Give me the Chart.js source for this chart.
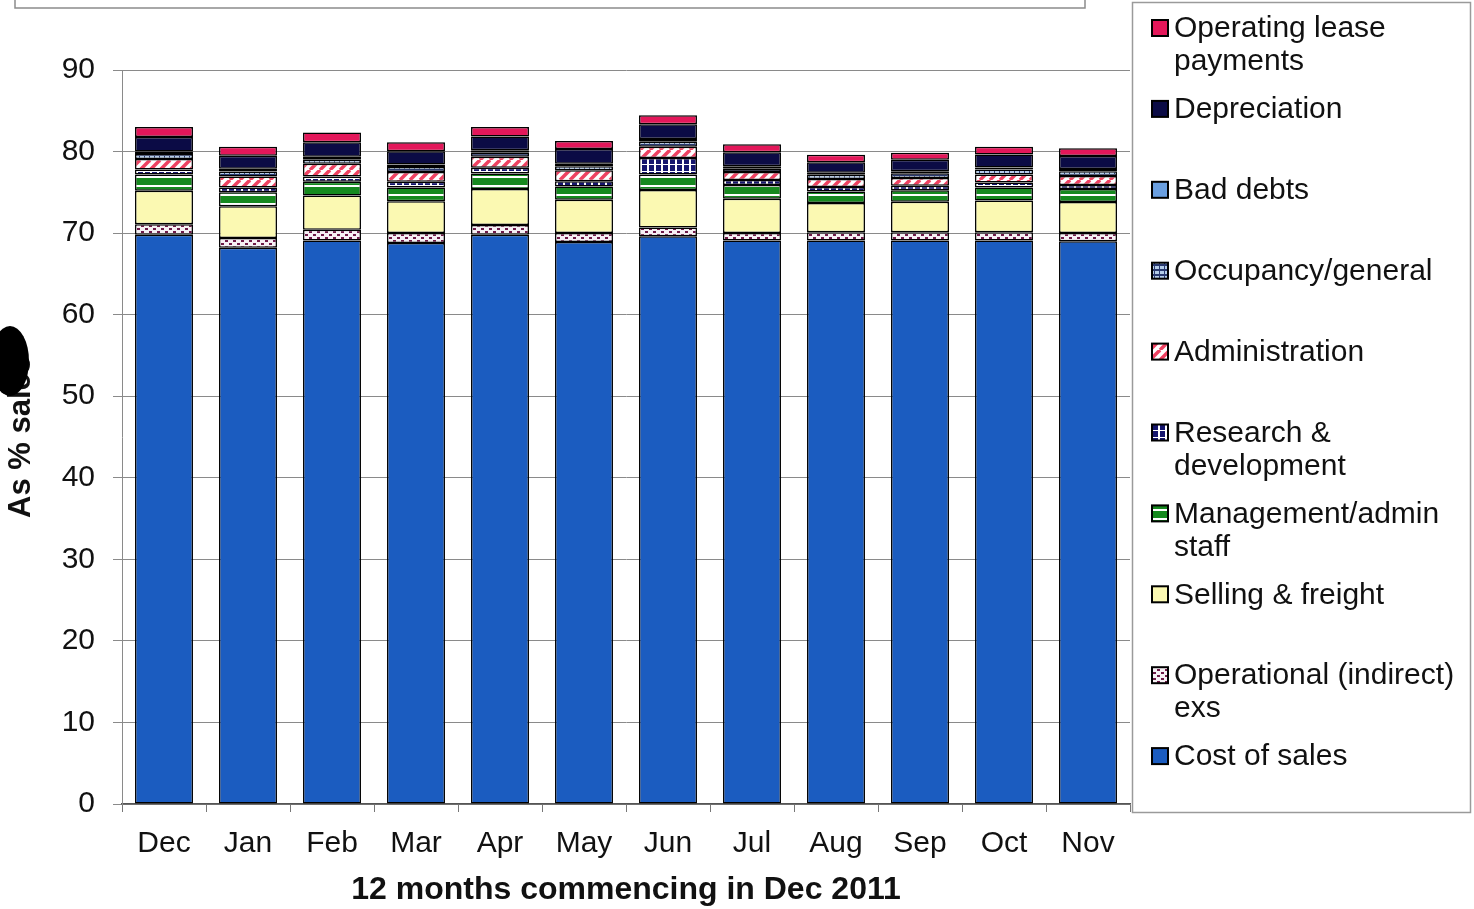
<!DOCTYPE html>
<html>
<head>
<meta charset="utf-8">
<title>Costs as % of sales</title>
<script src="https://cdn.jsdelivr.net/npm/chart.js@4.4.1/dist/chart.umd.min.js"></script>
<style>
  html, body { margin: 0; padding: 0; background: #fff; }
  canvas { display: block; }
</style>
</head>
<body>
<canvas id="chart" width="1474" height="909"></canvas>
<script>
const months = ['Dec', 'Jan', 'Feb', 'Mar', 'Apr', 'May', 'Jun', 'Jul', 'Aug', 'Sep', 'Oct', 'Nov'];

// stacked from the bottom up
const costOfSales   = [69.8, 68.2, 69.1, 68.8, 69.8, 68.9, 69.6, 69.1, 69.1, 69.1, 69.1, 69.0];
const operational   = [1.3, 1.2, 1.3, 1.2, 1.2, 1.1, 1.1, 0.9, 1.0, 1.0, 1.0, 1.0];
const selling       = [4.1, 3.9, 4.2, 3.9, 4.4, 4.1, 4.6, 4.2, 3.6, 3.75, 3.9, 3.8];
const management    = [2.0, 1.7, 1.7, 1.7, 1.9, 1.6, 1.9, 1.7, 1.4, 1.4, 1.6, 1.6];
const research      = [0.6, 0.6, 0.65, 0.7, 0.7, 0.65, 2.0, 0.6, 0.55, 0.55, 0.6, 0.5];
const administration = [1.3, 1.35, 1.55, 1.2, 1.35, 1.35, 1.4, 1.0, 1.0, 0.95, 1.0, 1.1];
const occupancy     = [0.6, 0.6, 0.5, 0.6, 0.5, 0.5, 0.6, 0.4, 0.5, 0.6, 0.6, 0.6];
const badDebts      = [0.3, 0.35, 0.35, 0.3, 0.3, 0.3, 0.35, 0.3, 0.25, 0.25, 0.25, 0.25];
const depreciation  = [1.8, 1.6, 1.8, 1.65, 1.7, 1.8, 1.8, 1.7, 1.3, 1.4, 1.6, 1.6];
const leasePayments = [1.2, 1.1, 1.2, 1.1, 1.15, 1.0, 1.1, 1.0, 0.9, 0.85, 0.95, 0.95];

const seriesNames = [
  'Cost of sales', 'Operational (indirect) exs', 'Selling & freight', 'Management/admin staff',
  'Research & development', 'Administration', 'Occupancy/general', 'Bad debts',
  'Depreciation', 'Operating lease payments'
];
const seriesData = [costOfSales, operational, selling, management, research,
  administration, occupancy, badDebts, depreciation, leasePayments];

const yTicks = [0, 10, 20, 30, 40, 50, 60, 70, 80, 90];

const FONT = "'Liberation Sans', Arial, sans-serif";

function makePattern(w, h, paint) {
  const c = document.createElement('canvas');
  c.width = w; c.height = h;
  const g = c.getContext('2d');
  paint(g, w, h);
  return g.createPattern(c, 'repeat');
}

const fills = [
  '#1b5cc0',
  makePattern(8, 6, (g, w, h) => {
    g.fillStyle = '#f6f0f4'; g.fillRect(0, 0, w, h);
    g.fillStyle = '#6e1a48';
    g.fillRect(1, 0, 3, 2); g.fillRect(5, 3, 3, 2);
  }),
  '#fbf9b2',
  makePattern(4, 9, (g, w, h) => {
    g.fillStyle = '#16891f'; g.fillRect(0, 0, w, h);
    g.fillStyle = '#ffffff'; g.fillRect(0, 5, w, 2);
  }),
  makePattern(7, 7, (g, w, h) => {
    g.fillStyle = '#15156e'; g.fillRect(0, 0, w, h);
    g.fillStyle = '#ffffff'; g.fillRect(3, 0, 2, h); g.fillRect(0, 3, w, 1);
  }),
  makePattern(10, 10, (g, w, h) => {
    g.fillStyle = '#ffffff'; g.fillRect(0, 0, w, h);
    g.strokeStyle = '#ee4262'; g.lineWidth = 3.5;
    for (const o of [-w, 0, w]) {
      g.beginPath(); g.moveTo(o, h); g.lineTo(o + w, 0); g.stroke();
    }
  }),
  makePattern(5, 5, (g, w, h) => {
    g.fillStyle = '#2a3a70'; g.fillRect(0, 0, w, h);
    g.fillStyle = '#b4cce8'; g.fillRect(0, 1, 4, 3);
  }),
  '#6a9fe0',
  '#0b0b45',
  '#e3175a'
];

const datasets = seriesNames.map((name, i) => ({
  label: name,
  data: seriesData[i],
  backgroundColor: fills[i],
  borderColor: '#000',
  borderWidth: 1.5,
  borderSkipped: false,
  barPercentage: 0.69,
  categoryPercentage: 1
}));

// legend box on the right, drawn from the datasets, top of stack first
const sideLegend = {
  id: 'sideLegend',
  afterDraw(chart) {
    const ctx = chart.ctx;
    ctx.save();
    ctx.strokeStyle = '#9a9a9a';
    ctx.lineWidth = 1.5;
    ctx.strokeRect(1132.5, 2.5, 338, 810);

    ctx.font = '30px ' + FONT;
    ctx.textBaseline = 'middle';
    const sets = chart.data.datasets.slice().reverse();
    sets.forEach((ds, i) => {
      const y = 28 + i * 80.9;
      ctx.fillStyle = ds.backgroundColor;
      ctx.fillRect(1152, y - 8, 16, 16);
      ctx.strokeStyle = '#000';
      ctx.lineWidth = 2;
      ctx.strokeRect(1152, y - 8, 16, 16);

      // wrap the label into lines that fit the box
      const words = ds.label.split(' ');
      const lines = [];
      let line = '';
      words.forEach(w => {
        const t = line ? line + ' ' + w : w;
        if (ctx.measureText(t).width > 290 && line) { lines.push(line); line = w; }
        else line = t;
      });
      lines.push(line);
      ctx.fillStyle = '#111';
      lines.forEach((l, k) => ctx.fillText(l, 1174, y + 1 + k * 33));
    });
    ctx.restore();
  }
};

// frame of the heading box at the top and the white page
const pageDecor = {
  id: 'pageDecor',
  beforeDraw(chart) {
    const ctx = chart.ctx;
    ctx.save();
    ctx.fillStyle = '#fff';
    ctx.fillRect(0, 0, chart.width, chart.height);
    ctx.restore();
  },
  afterDraw(chart) {
    const ctx = chart.ctx;
    ctx.save();
    ctx.strokeStyle = '#8c8c8c';
    ctx.lineWidth = 1.5;
    ctx.beginPath();
    ctx.moveTo(15, 0); ctx.lineTo(15, 8); ctx.lineTo(1085, 8); ctx.lineTo(1085, 0);
    ctx.stroke();
    ctx.fillStyle = '#000';
    ctx.beginPath();
    ctx.ellipse(10, 361, 19, 35, 0, 0, Math.PI * 2);
    ctx.fill();
    ctx.restore();
  }
};

new Chart(document.getElementById('chart'), {
  type: 'bar',
  data: { labels: months, datasets },
  options: {
    responsive: false,
    devicePixelRatio: 1,
    animation: false,
    layout: { padding: { top: 70, right: 344, left: 0, bottom: 0 } },
    plugins: {
      legend: { display: false },
      tooltip: { enabled: false }
    },
    scales: {
      x: {
        stacked: true,
        afterFit: s => { s.height = 105; },
        grid: { display: true, drawOnChartArea: false, tickLength: 8, color: '#777', offset: true },
        border: { display: true, color: '#555', width: 1.5 },
        ticks: { color: '#111', font: { family: FONT, size: 30 }, padding: 14 },
        title: {
          display: true,
          text: '12 months commencing in Dec 2011',
          color: '#111',
          font: { family: FONT, size: 32, weight: 'bold' },
          padding: { top: 0, bottom: 0 }
        }
      },
      y: {
        stacked: true,
        min: 0,
        max: 90,
        afterFit: s => { s.width = 122; },
        afterBuildTicks: s => { s.ticks = yTicks.map(v => ({ value: v })); },
        grid: { color: '#8a8a8a', lineWidth: 1, tickLength: 9 },
        border: { display: true, color: '#8a8a8a' },
        ticks: { color: '#111', font: { family: FONT, size: 30 }, padding: 18 },
        title: {
          display: true,
          text: 'As % sales',
          color: '#111',
          font: { family: FONT, size: 31, weight: 'bold' },
          padding: { top: 3, bottom: 0 }
        }
      }
    }
  },
  plugins: [pageDecor, sideLegend]
});
</script>
</body>
</html>
